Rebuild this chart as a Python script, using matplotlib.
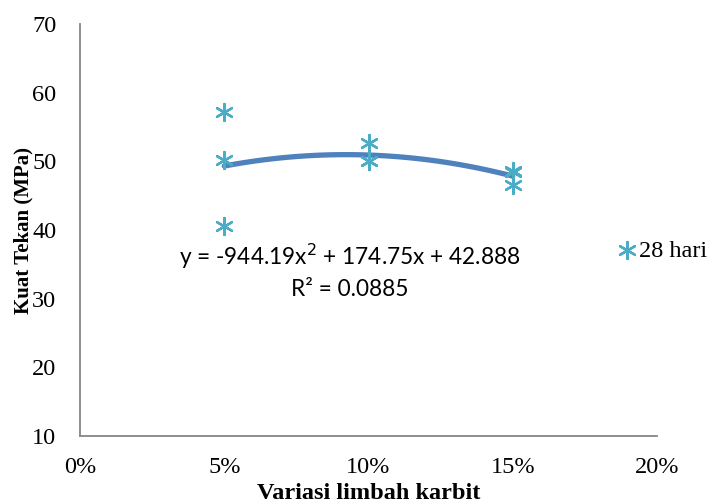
import numpy as np
import matplotlib.pyplot as plt

# data
variasi = [0.05, 0.05, 0.05, 0.10, 0.10, 0.10, 0.15, 0.15, 0.15]
kuat_tekan = [57.2, 50.2, 40.6, 52.7, 50.1, 50.0, 48.6, 48.4, 46.6]
seri = "28 hari"
x_ticks = [0, 0.05, 0.10, 0.15, 0.20]
x_labels = ["0%", "5%", "10%", "15%", "20%"]
y_ticks = [10, 20, 30, 40, 50, 60, 70]

plt.rcParams['font.family'] = ['Liberation Serif', 'DejaVu Serif']

fig = plt.figure(figsize=(7.24, 5.04), dpi=100)
ax = fig.add_axes([0.1105, 0.135, 0.797, 0.817])

star = (6, 2, 0)
ax.scatter(variasi, kuat_tekan, marker=star, s=150, color='#4BACC6',
           linewidths=1.7, zorder=3, label=seri)

# polynomial trendline order 2
coef = np.polyfit(variasi, kuat_tekan, 2)
xs = np.linspace(min(variasi), max(variasi), 100)
ax.plot(xs, np.polyval(coef, xs), color='#4F81BD', lw=3.8,
        solid_capstyle='round', zorder=2)

ax.set_xlim(0, 0.20)
ax.set_ylim(10, 70)
ax.set_xticks(x_ticks)
ax.set_xticklabels(x_labels)
ax.set_yticks(y_ticks)
ax.tick_params(length=0, labelsize=17.5)
ax.tick_params(axis='x', pad=15)
ax.tick_params(axis='y', pad=17)
for s in ['top', 'right']:
    ax.spines[s].set_visible(False)
for s in ['left', 'bottom']:
    ax.spines[s].set_color('#868686')
    ax.spines[s].set_linewidth(1.3)

ax.set_xlabel("Variasi limbah karbit", fontsize=17.5, fontweight='bold')
ax.xaxis.set_label_coords(0.5, -0.115)
ax.set_ylabel("Kuat Tekan (MPa)", fontsize=15, fontweight='bold')
ax.yaxis.set_label_coords(-0.08, 0.5)

ax.text(0.0936, 36.1, "y = -944.19x$^2$ + 174.75x + 42.888", family='Lato',
        fontsize=16.3, ha='center', va='center')
ax.text(0.0936, 31.3, "R² = 0.0885", family='Lato', fontsize=16.3,
        ha='center', va='center')

ax.legend(loc='center left', bbox_to_anchor=(0.885, 0.45), frameon=False,
          fontsize=17.5, handletextpad=-0.1, handlelength=1.2, scatterpoints=1)

fig.savefig('out.png', dpi=100)
